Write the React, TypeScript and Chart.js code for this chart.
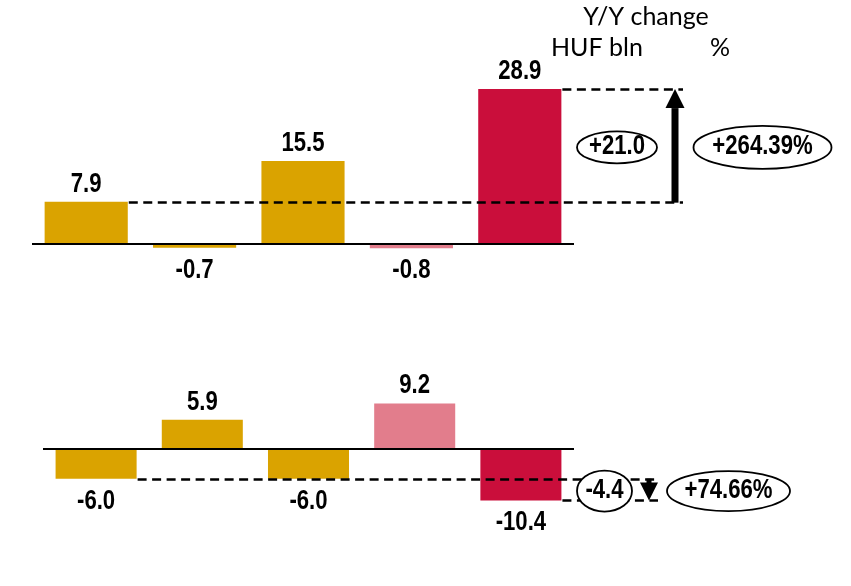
import { useEffect, useRef } from "react";
import { Chart, registerables } from "chart.js";

Chart.register(...registerables);

// Five periods per panel; each panel is its own bar series.
const categories = ["1", "2", "3", "4", "5"];
const topValues = [7.9, -0.7, 15.5, -0.8, 28.9];
const bottomValues = [-6.0, 5.9, -6.0, 9.2, -10.4];
const topChangePct = "+264.39%";
const bottomChangePct = "+74.66%";
const headerTitle = "Y/Y change";
const headerUnit = "HUF bln";
const headerPct = "%";

const GOLD = "#DAA300";
const PINK = "#E27D8C";
const RED = "#CA0E3B";
const barColors = [GOLD, GOLD, GOLD, PINK, RED];

const W = 851;
const H = 586;
// Bold sans squeezed horizontally to get a narrow face
const LABEL_FONT = 'bold 27px "Liberation Sans", Arial, sans-serif';
const LABEL_SQUEEZE = 0.82;
const HEADER_FONT = '25px Lato, Carlito, Calibri, "Open Sans", sans-serif';

type Pad = { left: number; right: number; top: number; bottom: number };

function fmtDiff(d: number) {
  return (d > 0 ? "+" : "") + d.toFixed(1);
}

function narrowText(ctx: CanvasRenderingContext2D, text: string, x: number, y: number) {
  ctx.save();
  ctx.font = LABEL_FONT;
  ctx.fillStyle = "#000";
  ctx.textAlign = "center";
  ctx.textBaseline = "alphabetic";
  ctx.translate(x, y);
  ctx.scale(LABEL_SQUEEZE, 1);
  ctx.fillText(text, 0, 0);
  ctx.restore();
}

function drawZeroLine(chart: any, left: number, right: number) {
  const ctx = chart.ctx as CanvasRenderingContext2D;
  const y = Math.round(chart.scales.y.getPixelForValue(0));
  ctx.save();
  ctx.strokeStyle = "#000";
  ctx.lineWidth = 2;
  ctx.beginPath();
  ctx.moveTo(left, y);
  ctx.lineTo(right, y);
  ctx.stroke();
  ctx.restore();
}

function drawValueLabels(chart: any, values: number[]) {
  const ctx = chart.ctx as CanvasRenderingContext2D;
  const meta = chart.getDatasetMeta(0);
  meta.data.forEach((bar: any, i: number) => {
    const v = values[i];
    const txt = v.toFixed(1);
    if (v >= 0) narrowText(ctx, txt, bar.x, bar.y - 10);
    else narrowText(ctx, txt, bar.x, bar.y + 30);
  });
}

function dashed(ctx: CanvasRenderingContext2D, x1: number, x2: number, y: number) {
  const yy = Math.round(y) + 0.5;
  ctx.save();
  ctx.strokeStyle = "#000";
  ctx.lineWidth = 2.6;
  ctx.setLineDash([9, 5.5]);
  ctx.beginPath();
  ctx.moveTo(x1 + 1, yy);
  ctx.lineTo(x2, yy);
  ctx.stroke();
  ctx.restore();
}

function ellipseLabel(
  ctx: CanvasRenderingContext2D,
  cx: number,
  cy: number,
  rx: number,
  ry: number,
  text: string
) {
  ctx.save();
  ctx.beginPath();
  ctx.ellipse(cx, cy, rx, ry, 0, 0, Math.PI * 2);
  ctx.fillStyle = "#fff";
  ctx.fill();
  ctx.strokeStyle = "#000";
  ctx.lineWidth = 1.8;
  ctx.stroke();
  ctx.restore();
  narrowText(ctx, text, cx, cy + 7);
}

function arrow(
  ctx: CanvasRenderingContext2D,
  x: number,
  yFrom: number,
  yTip: number,
  shaftW: number,
  headW: number,
  headH: number
) {
  const dir = yTip < yFrom ? -1 : 1;
  const base = yTip - dir * headH;
  ctx.save();
  ctx.fillStyle = "#000";
  ctx.fillRect(x - shaftW / 2, Math.min(yFrom, base), shaftW, Math.abs(base - yFrom) + 1);
  ctx.beginPath();
  ctx.moveTo(x - headW / 2, base);
  ctx.lineTo(x + headW / 2, base);
  ctx.lineTo(x, yTip);
  ctx.closePath();
  ctx.fill();
  ctx.restore();
}

function barEdgeRight(bar: any) {
  return bar.x + bar.width / 2;
}

function annotateTop(chart: any) {
  const ctx = chart.ctx as CanvasRenderingContext2D;
  const { left, right } = chart.chartArea;
  drawZeroLine(chart, left, right);
  drawValueLabels(chart, topValues);

  const meta = chart.getDatasetMeta(0);
  const ys = chart.scales.y;
  const first = meta.data[0];
  const last = meta.data[topValues.length - 1];
  const yA = ys.getPixelForValue(topValues[0]);
  const yB = ys.getPixelForValue(topValues[topValues.length - 1]);
  const arrowX = right + 101;
  dashed(ctx, barEdgeRight(first), arrowX + 8, yA);
  dashed(ctx, barEdgeRight(last), arrowX + 8, yB);
  arrow(ctx, arrowX, yA, yB, 7, 19, 19);

  const midY = (yA + yB) / 2 + 2;
  ellipseLabel(ctx, right + 43, midY, 40, 16, fmtDiff(topValues[4] - topValues[0]));
  ellipseLabel(ctx, right + 188.5, midY, 69, 21.5, topChangePct);

  ctx.save();
  ctx.font = HEADER_FONT;
  ctx.fillStyle = "#000";
  ctx.textBaseline = "alphabetic";
  ctx.textAlign = "center";
  ctx.fillText(headerTitle, 646, 25);
  ctx.textAlign = "left";
  ctx.fillText(headerUnit, 551, 56);
  ctx.textAlign = "center";
  ctx.fillText(headerPct, 720, 56);
  ctx.restore();
}

function annotateBottom(chart: any) {
  const ctx = chart.ctx as CanvasRenderingContext2D;
  const { left, right } = chart.chartArea;
  drawZeroLine(chart, left, right);
  drawValueLabels(chart, bottomValues);

  const meta = chart.getDatasetMeta(0);
  const ys = chart.scales.y;
  const first = meta.data[0];
  const last = meta.data[bottomValues.length - 1];
  const yA = ys.getPixelForValue(bottomValues[0]);
  const yB = ys.getPixelForValue(bottomValues[bottomValues.length - 1]);
  const endX = right + 84;
  dashed(ctx, barEdgeRight(first), endX, yA);
  dashed(ctx, barEdgeRight(last), endX, yB);

  const midY = (yA + yB) / 2 + 1.5;
  ellipseLabel(ctx, right + 30.5, midY, 27.5, 20.5, fmtDiff(bottomValues[4] - bottomValues[0]));
  arrow(ctx, right + 75, yA, yB, 5, 18, 18);
  ellipseLabel(ctx, right + 154.5, midY, 61.5, 20, bottomChangePct);
}

function makeChart(
  canvas: HTMLCanvasElement,
  values: number[],
  pad: Pad,
  yMin: number,
  yMax: number,
  barPct: number,
  annotate: (c: any) => void
) {
  return new Chart(canvas, {
    type: "bar",
    data: {
      labels: categories,
      datasets: [
        {
          data: values,
          backgroundColor: barColors,
          borderWidth: 0,
          barPercentage: barPct,
          categoryPercentage: 1,
        },
      ],
    },
    options: {
      responsive: false,
      animation: false,
      layout: { padding: pad },
      plugins: {
        legend: { display: false },
        tooltip: { enabled: false },
        title: { display: false },
      },
      scales: {
        x: { display: false },
        y: { display: false, min: yMin, max: yMax },
      },
    },
    plugins: [{ id: "overlay", afterDatasetsDraw: (c: any) => annotate(c) }],
  });
}

export default function App() {
  const topRef = useRef<HTMLCanvasElement>(null);
  const bottomRef = useRef<HTMLCanvasElement>(null);

  useEffect(() => {
    if (!topRef.current || !bottomRef.current) return;
    // upper panel: zero at y=244, 5.36 px per unit
    const top = makeChart(
      topRef.current,
      topValues,
      { left: 32, right: W - 574, top: 244 - 30 * 5.36, bottom: H - (244 + 5 * 5.36) },
      -5,
      30,
      0.767,
      annotateTop
    );
    // lower panel: zero at y=449, 4.95 px per unit
    const bottom = makeChart(
      bottomRef.current,
      bottomValues,
      { left: 43, right: W - 574, top: 449 - 12 * 4.95, bottom: H - (449 + 14 * 4.95) },
      -14,
      12,
      0.763,
      annotateBottom
    );
    return () => {
      top.destroy();
      bottom.destroy();
    };
  }, []);

  const canvasStyle: any = { position: "absolute", left: 0, top: 0, width: W, height: H };
  return (
    <div style={{ position: "fixed", left: 0, top: 0, width: W, height: H, background: "#fff" }}>
      <canvas ref={bottomRef} width={W} height={H} style={canvasStyle} />
      <canvas ref={topRef} width={W} height={H} style={canvasStyle} />
    </div>
  );
}
